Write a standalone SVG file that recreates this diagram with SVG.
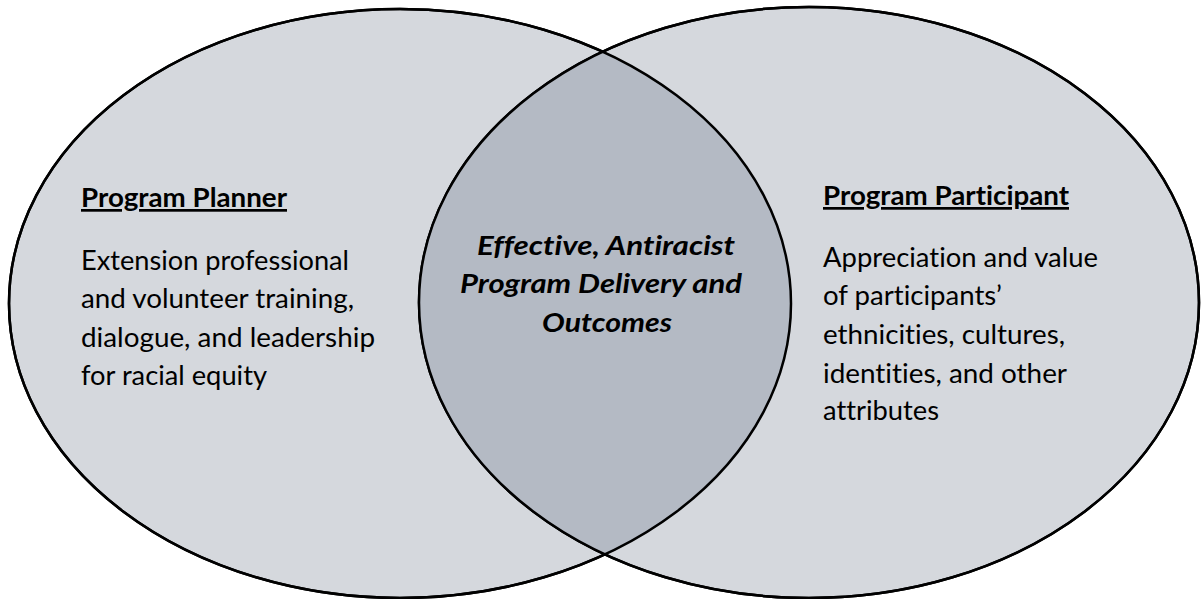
<svg xmlns="http://www.w3.org/2000/svg" width="1202" height="599" viewBox="0 0 1202 599">
  <style>
    .set { fill: #d5d8dd; stroke: #000; stroke-width: 2.5; }
    .ring { fill: none; stroke: #000; stroke-width: 2.5; }
    .overlap { fill: #b4bac4; }
    text { font-family: Lato, "Open Sans", "Liberation Sans", sans-serif; fill: #000; font-variant-ligatures: none; }
    .head { font-size: 27px; font-weight: bold; text-decoration: underline; }
    .body { font-size: 27px; }
    .core { font-size: 27px; font-weight: bold; font-style: italic; text-anchor: middle; }
  </style>
  <defs>
    <clipPath id="clipLeft">
      <ellipse cx="400" cy="303.5" rx="391" ry="294.5"/>
    </clipPath>
  </defs>

  <!-- two sets and their overlap -->
  <g id="planner">
    <ellipse class="set" cx="400" cy="303.5" rx="391" ry="294.5"/>
  </g>
  <g id="participant">
    <ellipse class="set" cx="809" cy="302.5" rx="390" ry="295.5"/>
  </g>
  <g id="overlap">
    <ellipse class="overlap" cx="809" cy="302.5" rx="390" ry="295.5" clip-path="url(#clipLeft)"/>
    <ellipse class="ring" cx="400" cy="303.5" rx="391" ry="294.5"/>
    <ellipse class="ring" cx="809" cy="302.5" rx="390" ry="295.5"/>
  </g>

  <g id="planner-text">
    <text class="head" x="81" y="207" textLength="206" lengthAdjust="spacingAndGlyphs">Program Planner</text>
    <text class="body" x="81" y="270" textLength="268" lengthAdjust="spacingAndGlyphs">Extension professional</text>
    <text class="body" x="81" y="308" textLength="273" lengthAdjust="spacingAndGlyphs">and volunteer training,</text>
    <text class="body" x="81" y="347" textLength="294" lengthAdjust="spacingAndGlyphs">dialogue, and leadership</text>
    <text class="body" x="81" y="385" textLength="186" lengthAdjust="spacingAndGlyphs">for racial equity</text>
  </g>

  <g id="participant-text">
    <text class="head" x="823" y="205" textLength="246" lengthAdjust="spacingAndGlyphs">Program Participant</text>
    <text class="body" x="823" y="267" textLength="275" lengthAdjust="spacingAndGlyphs">Appreciation and value</text>
    <text class="body" x="823" y="305" textLength="179" lengthAdjust="spacingAndGlyphs">of participants’</text>
    <text class="body" x="823" y="344" textLength="242" lengthAdjust="spacingAndGlyphs">ethnicities, cultures,</text>
    <text class="body" x="823" y="383" textLength="244" lengthAdjust="spacingAndGlyphs">identities, and other</text>
    <text class="body" x="823" y="420" textLength="116" lengthAdjust="spacingAndGlyphs">attributes</text>
  </g>

  <g id="overlap-text">
    <text class="core" x="606" y="255" textLength="258" lengthAdjust="spacingAndGlyphs">Effective, Antiracist</text>
    <text class="core" x="601" y="293" textLength="282" lengthAdjust="spacingAndGlyphs">Program Delivery and</text>
    <text class="core" x="607" y="332" textLength="130" lengthAdjust="spacingAndGlyphs">Outcomes</text>
  </g>
</svg>
